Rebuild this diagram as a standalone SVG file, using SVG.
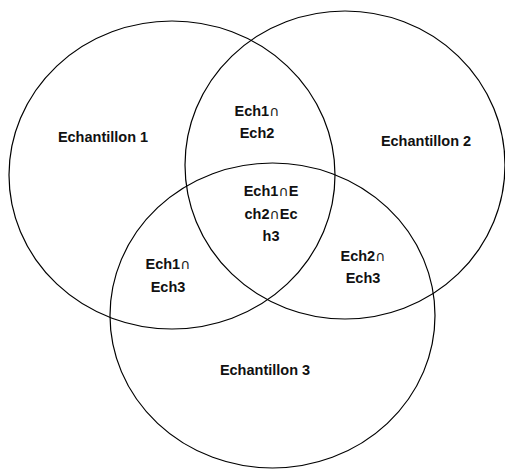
<svg xmlns="http://www.w3.org/2000/svg" width="505" height="469" viewBox="0 0 505 469">
<style>
.set{fill:none;stroke:#000;stroke-width:1.2}
text{font-family:"Liberation Sans",Arial,sans-serif;font-weight:bold;font-size:14.5px;fill:#111;text-anchor:middle}
.cap{font-family:"DejaVu Sans",sans-serif;font-weight:normal;font-size:14px;fill:#222}
</style>
<rect width="505" height="469" fill="#fff"/>
<g id="connectors"></g>
<g id="set1"><ellipse class="set" cx="172" cy="175" rx="163" ry="154"/></g>
<g id="set2"><ellipse class="set" cx="345" cy="165" rx="160" ry="154"/></g>
<g id="set3"><ellipse class="set" cx="272.5" cy="315.5" rx="162.5" ry="152.5"/></g>
<g id="label1"><text x="103" y="142">Echantillon 1</text></g>
<g id="label2"><text x="426" y="146">Echantillon 2</text></g>
<g id="label3"><text x="265" y="375">Echantillon 3</text></g>
<g id="i12"><text x="257" y="116">Ech1<tspan class="cap">∩</tspan></text><text x="257" y="138">Ech2</text></g>
<g id="i123"><text x="271" y="196">Ech1<tspan class="cap">∩</tspan>E</text><text x="271" y="219">ch2<tspan class="cap">∩</tspan>Ec</text><text x="271" y="241">h3</text></g>
<g id="i13"><text x="168" y="269">Ech1<tspan class="cap">∩</tspan></text><text x="168" y="292">Ech3</text></g>
<g id="i23"><text x="363" y="261">Ech2<tspan class="cap">∩</tspan></text><text x="363" y="283">Ech3</text></g>
</svg>
